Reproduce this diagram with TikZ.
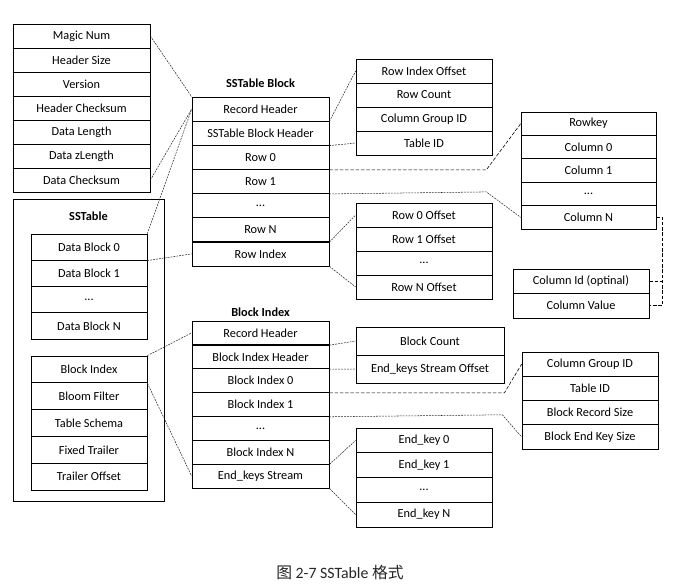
\documentclass[tikz,border=0pt]{standalone}
\usepackage{fontspec}
\setmainfont{Carlito}
\newfontfamily\cjk{Noto Sans CJK SC}
\usepackage{tikz}

\newcommand{\pxu}{0.03cm}

\tikzset{
  cell/.style={shape=rectangle,draw=black,line width=0.6pt,inner sep=0pt,minimum width=137*\pxu,minimum height=24*\pxu,font=\fontsize{10.5}{12}\selectfont},
  title/.style={font=\fontsize{10.5}{12}\selectfont\bfseries},
  link/.style={draw=black!85,line width=0.45pt,dash pattern=on 1.6pt off 0.9pt},
  longlink/.style={draw=black,line width=0.5pt,dash pattern=on 3pt off 1.5pt},
}

\begin{document}
\begin{tikzpicture}[x=\pxu,y=-\pxu]
      \useasboundingbox (0,0) rectangle (680,584);

      % header
      \node[cell](magic) at (81.5,36) {Magic Num};
      \node[cell](hsize) at (81.5,60) {Header Size};
      \node[cell](version) at (81.5,84) {Version};
      \node[cell](hcheck) at (81.5,108) {Header Checksum};
      \node[cell](dlen) at (81.5,132) {Data Length};
      \node[cell](dzlen) at (81.5,156) {Data zLength};
      \node[cell](dcheck) at (81.5,180) {Data Checksum};

      % sstable
      \node[cell,minimum width=151*\pxu,minimum height=302*\pxu](sstable) at (88.5,350) {};
      \node[title](sstitle) at (88.5,216) {SSTable};
      \node[cell,minimum width=116*\pxu,minimum height=26.25*\pxu](db0) at (89,247.1) {Data Block 0};
      \node[cell,minimum width=116*\pxu,minimum height=26.25*\pxu](db1) at (89,273.4) {Data Block 1};
      \node[cell,minimum width=116*\pxu,minimum height=26.25*\pxu](dbdots) at (89,299.6) {...};
      \node[cell,minimum width=116*\pxu,minimum height=26.25*\pxu](dbn) at (89,325.9) {Data Block N};
      \node[cell,minimum width=116*\pxu,minimum height=26.8*\pxu](bidx) at (89,369.4) {Block Index};
      \node[cell,minimum width=116*\pxu,minimum height=26.8*\pxu](bloom) at (89,396.2) {Bloom Filter};
      \node[cell,minimum width=116*\pxu,minimum height=26.8*\pxu](schema) at (89,423) {Table Schema};
      \node[cell,minimum width=116*\pxu,minimum height=26.8*\pxu](fixtr) at (89,449.8) {Fixed Trailer};
      \node[cell,minimum width=116*\pxu,minimum height=26.8*\pxu](troff) at (89,476.6) {Trailer Offset};

      % sstable block
      \node[title](sbtitle) at (260.5,83) {SSTable Block};
      \node[cell,minimum height=24.14*\pxu](rechdr) at (260.5,109.1) {Record Header};
      \node[cell,minimum height=24.14*\pxu](blkhdr) at (260.5,133.2) {SSTable Block Header};
      \node[cell,minimum height=24.14*\pxu](row0) at (260.5,157.4) {Row 0};
      \node[cell,minimum height=24.14*\pxu](row1) at (260.5,181.5) {Row 1};
      \node[cell,minimum height=24.14*\pxu](rowdots) at (260.5,205.6) {...};
      \node[cell,minimum height=24.14*\pxu](rown) at (260.5,229.8) {Row N};
      \node[cell,minimum height=24.14*\pxu](rowidx) at (260.5,253.9) {Row Index};

      \node[cell,minimum width=136*\pxu](rio) at (424,71) {Row Index Offset};
      \node[cell,minimum width=136*\pxu](rcount) at (424,95) {Row Count};
      \node[cell,minimum width=136*\pxu](cgid) at (424,119) {Column Group ID};
      \node[cell,minimum width=136*\pxu](tid) at (424,143) {Table ID};

      \node[cell,minimum width=136*\pxu](ro0) at (424,215) {Row 0 Offset};
      \node[cell,minimum width=136*\pxu](ro1) at (424,239) {Row 1 Offset};
      \node[cell,minimum width=136*\pxu](rodots) at (424,263) {...};
      \node[cell,minimum width=136*\pxu](ron) at (424,287) {Row N Offset};

      % row
      \node[cell,minimum width=135*\pxu,minimum height=23.4*\pxu](rowkey) at (588.5,123.7) {Rowkey};
      \node[cell,minimum width=135*\pxu,minimum height=23.4*\pxu](col0) at (588.5,147.1) {Column 0};
      \node[cell,minimum width=135*\pxu,minimum height=23.4*\pxu](col1) at (588.5,170.5) {Column 1};
      \node[cell,minimum width=135*\pxu,minimum height=23.4*\pxu](coldots) at (588.5,193.9) {...};
      \node[cell,minimum width=135*\pxu,minimum height=23.4*\pxu](coln) at (588.5,217.3) {Column N};

      \node[cell,minimum width=136*\pxu,minimum height=24.5*\pxu](colid) at (581,281.25) {Column Id (optinal)};
      \node[cell,minimum width=136*\pxu,minimum height=24.5*\pxu](colval) at (581,305.75) {Column Value};

      % block index
      \node[title](bititle) at (260.5,312) {Block Index};
      \node[cell,minimum height=23.86*\pxu](birec) at (260.5,332.9) {Record Header};
      \node[cell,minimum height=23.86*\pxu](bihdr) at (260.5,356.8) {Block Index Header};
      \node[cell,minimum height=23.86*\pxu](bi0) at (260.5,380.6) {Block Index 0};
      \node[cell,minimum height=23.86*\pxu](bi1) at (260.5,404.5) {Block Index 1};
      \node[cell,minimum height=23.86*\pxu](bidots) at (260.5,428.4) {...};
      \node[cell,minimum height=23.86*\pxu](bin) at (260.5,452.2) {Block Index N};
      \node[cell,minimum height=23.86*\pxu](endks) at (260.5,476.1) {End\_keys Stream};

      \node[cell,minimum width=148*\pxu,minimum height=28*\pxu](bcount) at (430,341) {Block Count};
      \node[cell,minimum width=148*\pxu,minimum height=28*\pxu](ekoff) at (430,369) {End\_keys Stream Offset};

      \node[cell,minimum width=136*\pxu,minimum height=24.25*\pxu](cgid2) at (590,364.1) {Column Group ID};
      \node[cell,minimum width=136*\pxu,minimum height=24.25*\pxu](tid2) at (590,388.4) {Table ID};
      \node[cell,minimum width=136*\pxu,minimum height=24.25*\pxu](brsize) at (590,412.6) {Block Record Size};
      \node[cell,minimum width=136*\pxu,minimum height=24.25*\pxu](beksize) at (590,436.9) {Block End Key Size};

      \node[cell,minimum width=136*\pxu,minimum height=24.75*\pxu](ek0) at (424,440.4) {End\_key 0};
      \node[cell,minimum width=136*\pxu,minimum height=24.75*\pxu](ek1) at (424,465.1) {End\_key 1};
      \node[cell,minimum width=136*\pxu,minimum height=24.75*\pxu](ekdots) at (424,489.9) {...};
      \node[cell,minimum width=136*\pxu,minimum height=24.75*\pxu](ekn) at (424,514.6) {End\_key N};

      \node[font=\fontsize{13.5}{15}\selectfont,text=black!85](caption) at (340,572) {{\cjk 图} 2-7 SSTable {\cjk 格式}};

      % connectors
      \path [link] (magic.east) edge (rechdr.north west);
      \path [link] (dcheck.east) edge (rechdr.west);
      \path [link] (db0.north east) edge (rechdr.west);
      \path [link] (db0.south east) edge (rowidx.west);
      \path [link] (rechdr.south east) edge (rio.west);
      \path [link] (blkhdr.south east) edge (tid.west);
      \draw [longlink] (row0.south east) -- ++(157,0) -- (rowkey.west);
      \draw [link] (row1.south east) -- ++(157,-2) -- (coln.west);
      \path [link] (rown.south east) edge (ro0.west);
      \path [link] (rowidx.south east) edge (ron.west);
      \draw [longlink] (coln.east) -- ++(6,0) coordinate (brk) |- (colval.east);
      \draw [longlink] (colid.east) -- (colid.east -| brk);
      \path [link] (bidx.north east) edge (birec.west);
      \path [link] (bidx.south east) edge (endks.west);
      \path [link] (birec.south east) edge (bcount.west);
      \path [link] (bihdr.south east) edge (ekoff.west);
      \draw [longlink] (bi0.south east) -- ++(175,0) -- (cgid2.west);
      \draw [link] (bi1.south east) -- ++(173,-2) -- (beksize.west);
      \path [link] (bin.south east) edge (ek0.west);
      \path [link] (endks.south east) edge (ekn.west);
\end{tikzpicture}
\end{document}
